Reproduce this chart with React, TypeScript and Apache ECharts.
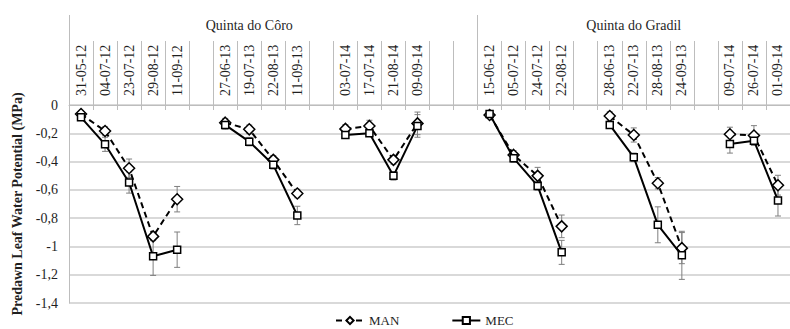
import React, { useEffect, useRef } from 'react';
import * as echarts from 'echarts';

const categories = [
  '31-05-12', '04-07-12', '23-07-12', '29-08-12', '11-09-12', '',
  '27-06-13', '19-07-13', '22-08-13', '11-09-13', '',
  '03-07-14', '17-07-14', '21-08-14', '09-09-14', '', '',
  '15-06-12', '05-07-12', '24-07-12', '22-08-12', '',
  '28-06-13', '22-07-13', '28-08-13', '24-09-13', '',
  '09-07-14', '26-07-14', '01-09-14',
];

const groups = ['Quinta do Côro', 'Quinta do Gradil'];
const groupSizes = [17, 13];

const manValues = [
  -0.064, -0.184, -0.447, -0.929, -0.666, null,
  -0.125, -0.172, -0.388, -0.626, null,
  -0.169, -0.148, -0.388, -0.13, null, null,
  -0.071, -0.353, -0.501, -0.858, null,
  -0.078, -0.212, -0.553, -1.012, null,
  -0.207, -0.216, -0.567,
];
const mecValues = [
  -0.087, -0.278, -0.548, -1.07, -1.023, null,
  -0.141, -0.259, -0.423, -0.781, null,
  -0.212, -0.2, -0.501, -0.148, null, null,
  -0.064, -0.376, -0.572, -1.042, null,
  -0.141, -0.37, -0.847, -1.063, null,
  -0.275, -0.252, -0.675,
];
const manErrors = [
  0.02, 0.03, 0.065, 0.03, 0.09, null,
  0.03, 0.03, 0.03, 0.03, null,
  0.03, 0.04, 0.03, 0.08, null, null,
  0.02, 0.03, 0.06, 0.08, null,
  0.03, 0.05, 0.04, 0.11, null,
  0.05, 0.07, 0.07,
];
const mecErrors = [
  0.02, 0.05, 0.075, 0.135, 0.125, null,
  0.03, 0.03, 0.03, 0.065, null,
  0.02, 0.02, 0.03, 0.08, null, null,
  0.02, 0.03, 0.03, 0.085, null,
  0.02, 0.03, 0.127, 0.17, null,
  0.065, 0.03, 0.11,
];

const yMin = -1.4;
const yMax = 0;
const yStep = 0.2;

const FONT = 'Liberation Serif';
const TEXT = '#1f1f1f';
const GRID = '#cccccc';
const SEP = '#bdbdbd';

function errorData(values: (number | null)[], errors: (number | null)[]) {
  const out: number[][] = [];
  values.forEach((v, i) => {
    if (v != null && errors[i] != null) out.push([i, v, errors[i] as number]);
  });
  return out;
}

function errorSeries(values: (number | null)[], errors: (number | null)[]) {
  return {
    type: 'custom',
    xAxisIndex: 0,
    yAxisIndex: 0,
    z: 1,
    silent: true,
    data: errorData(values, errors),
    encode: { x: 0, y: 1 },
    renderItem: (_params: any, api: any) => {
      const x = api.value(0);
      const v = api.value(1);
      const e = api.value(2);
      const top = api.coord([x, v + e]);
      const bot = api.coord([x, v - e]);
      const cap = 3;
      const style = { stroke: '#7f7f7f', lineWidth: 1, fill: null };
      return {
        type: 'group',
        children: [
          { type: 'line', shape: { x1: top[0], y1: top[1], x2: bot[0], y2: bot[1] }, style },
          { type: 'line', shape: { x1: top[0] - cap, y1: top[1], x2: top[0] + cap, y2: top[1] }, style },
          { type: 'line', shape: { x1: bot[0] - cap, y1: bot[1], x2: bot[0] + cap, y2: bot[1] }, style },
        ],
      };
    },
  };
}

export default function App() {
  const ref = useRef<HTMLDivElement>(null);

  useEffect(() => {
    if (!ref.current) return;
    const chart = echarts.init(ref.current, undefined, { renderer: 'svg' });

    const boundaries: number[] = [0];
    groupSizes.forEach((s) => boundaries.push(boundaries[boundaries.length - 1] + s));
    const total = boundaries[boundaries.length - 1];
    const groupLabelAt = [7.5, 23.5];

    chart.setOption({
      animation: false,
      backgroundColor: '#ffffff',
      textStyle: { fontFamily: FONT },
      grid: { left: 69, top: 105, width: 727, height: 198 },
      legend: {
        left: 335,
        top: 314,
        padding: 0,
        itemWidth: 28,
        itemHeight: 9,
        itemGap: 52,
        textStyle: { fontFamily: FONT, fontSize: 13, color: TEXT },
        data: ['MAN', 'MEC'],
      },
      xAxis: [
        {
          type: 'category',
          position: 'top',
          data: categories,
          boundaryGap: true,
          axisLine: { show: true, lineStyle: { color: SEP, width: 1 } },
          axisTick: { show: true, interval: 0, length: 64, lineStyle: { color: SEP, width: 1 } },
          axisLabel: {
            show: true,
            interval: 0,
            rotate: 90,
            margin: 9,
            fontFamily: FONT,
            fontSize: 14,
            color: TEXT,
          },
          splitLine: { show: false },
        },
        {
          type: 'value',
          position: 'top',
          offset: 64,
          min: 0,
          max: total,
          axisLine: { show: false },
          splitLine: { show: false },
          axisTick: {
            show: true,
            customValues: boundaries,
            length: 26,
            lineStyle: { color: SEP, width: 1 },
          },
          axisLabel: {
            show: true,
            customValues: groupLabelAt,
            margin: 9,
            fontFamily: FONT,
            fontSize: 14,
            color: TEXT,
            formatter: (v: number) => groups[groupLabelAt.indexOf(v)] ?? '',
          },
        },
        {
          type: 'category',
          position: 'top',
          offset: 0,
          data: categories,
          boundaryGap: true,
          axisLine: { show: false },
          axisTick: { show: true, inside: true, interval: 0, length: 5, lineStyle: { color: SEP, width: 1 } },
          axisLabel: { show: false },
          splitLine: { show: false },
        },
      ],
      yAxis: {
        type: 'value',
        min: yMin,
        max: yMax,
        interval: yStep,
        name: 'Predawn Leaf Water Potential (MPa)',
        nameLocation: 'middle',
        nameRotate: 90,
        nameGap: 44,
        nameTextStyle: { fontFamily: FONT, fontSize: 14, fontWeight: 'bold', color: TEXT },
        axisLine: { show: true, lineStyle: { color: SEP, width: 1 } },
        axisTick: { show: false },
        splitLine: { show: true, lineStyle: { color: GRID, width: 1.5 } },
        axisLabel: {
          margin: 11,
          fontFamily: FONT,
          fontSize: 14,
          color: TEXT,
          formatter: (v: number) => String(Number(v.toFixed(1))).replace('.', ','),
        },
      },
      series: [
        errorSeries(manValues, manErrors),
        errorSeries(mecValues, mecErrors),
        {
          name: 'MAN',
          type: 'line',
          data: manValues,
          connectNulls: false,
          symbol: 'diamond',
          symbolSize: 11,
          z: 3,
          lineStyle: { color: '#000000', width: 2, type: [6, 4] },
          itemStyle: { color: '#ffffff', borderColor: '#000000', borderWidth: 1.5 },
        },
        {
          name: 'MEC',
          type: 'line',
          data: mecValues,
          connectNulls: false,
          symbol: 'rect',
          symbolSize: 7,
          z: 4,
          lineStyle: { color: '#000000', width: 2 },
          itemStyle: { color: '#ffffff', borderColor: '#000000', borderWidth: 1.5 },
        },
      ],
    });

    return () => chart.dispose();
  }, []);

  return (
    <div
      ref={ref}
      style={{ position: 'absolute', left: 0, top: 0, width: 790, height: 329, overflow: 'hidden' }}
    />
  );
}
